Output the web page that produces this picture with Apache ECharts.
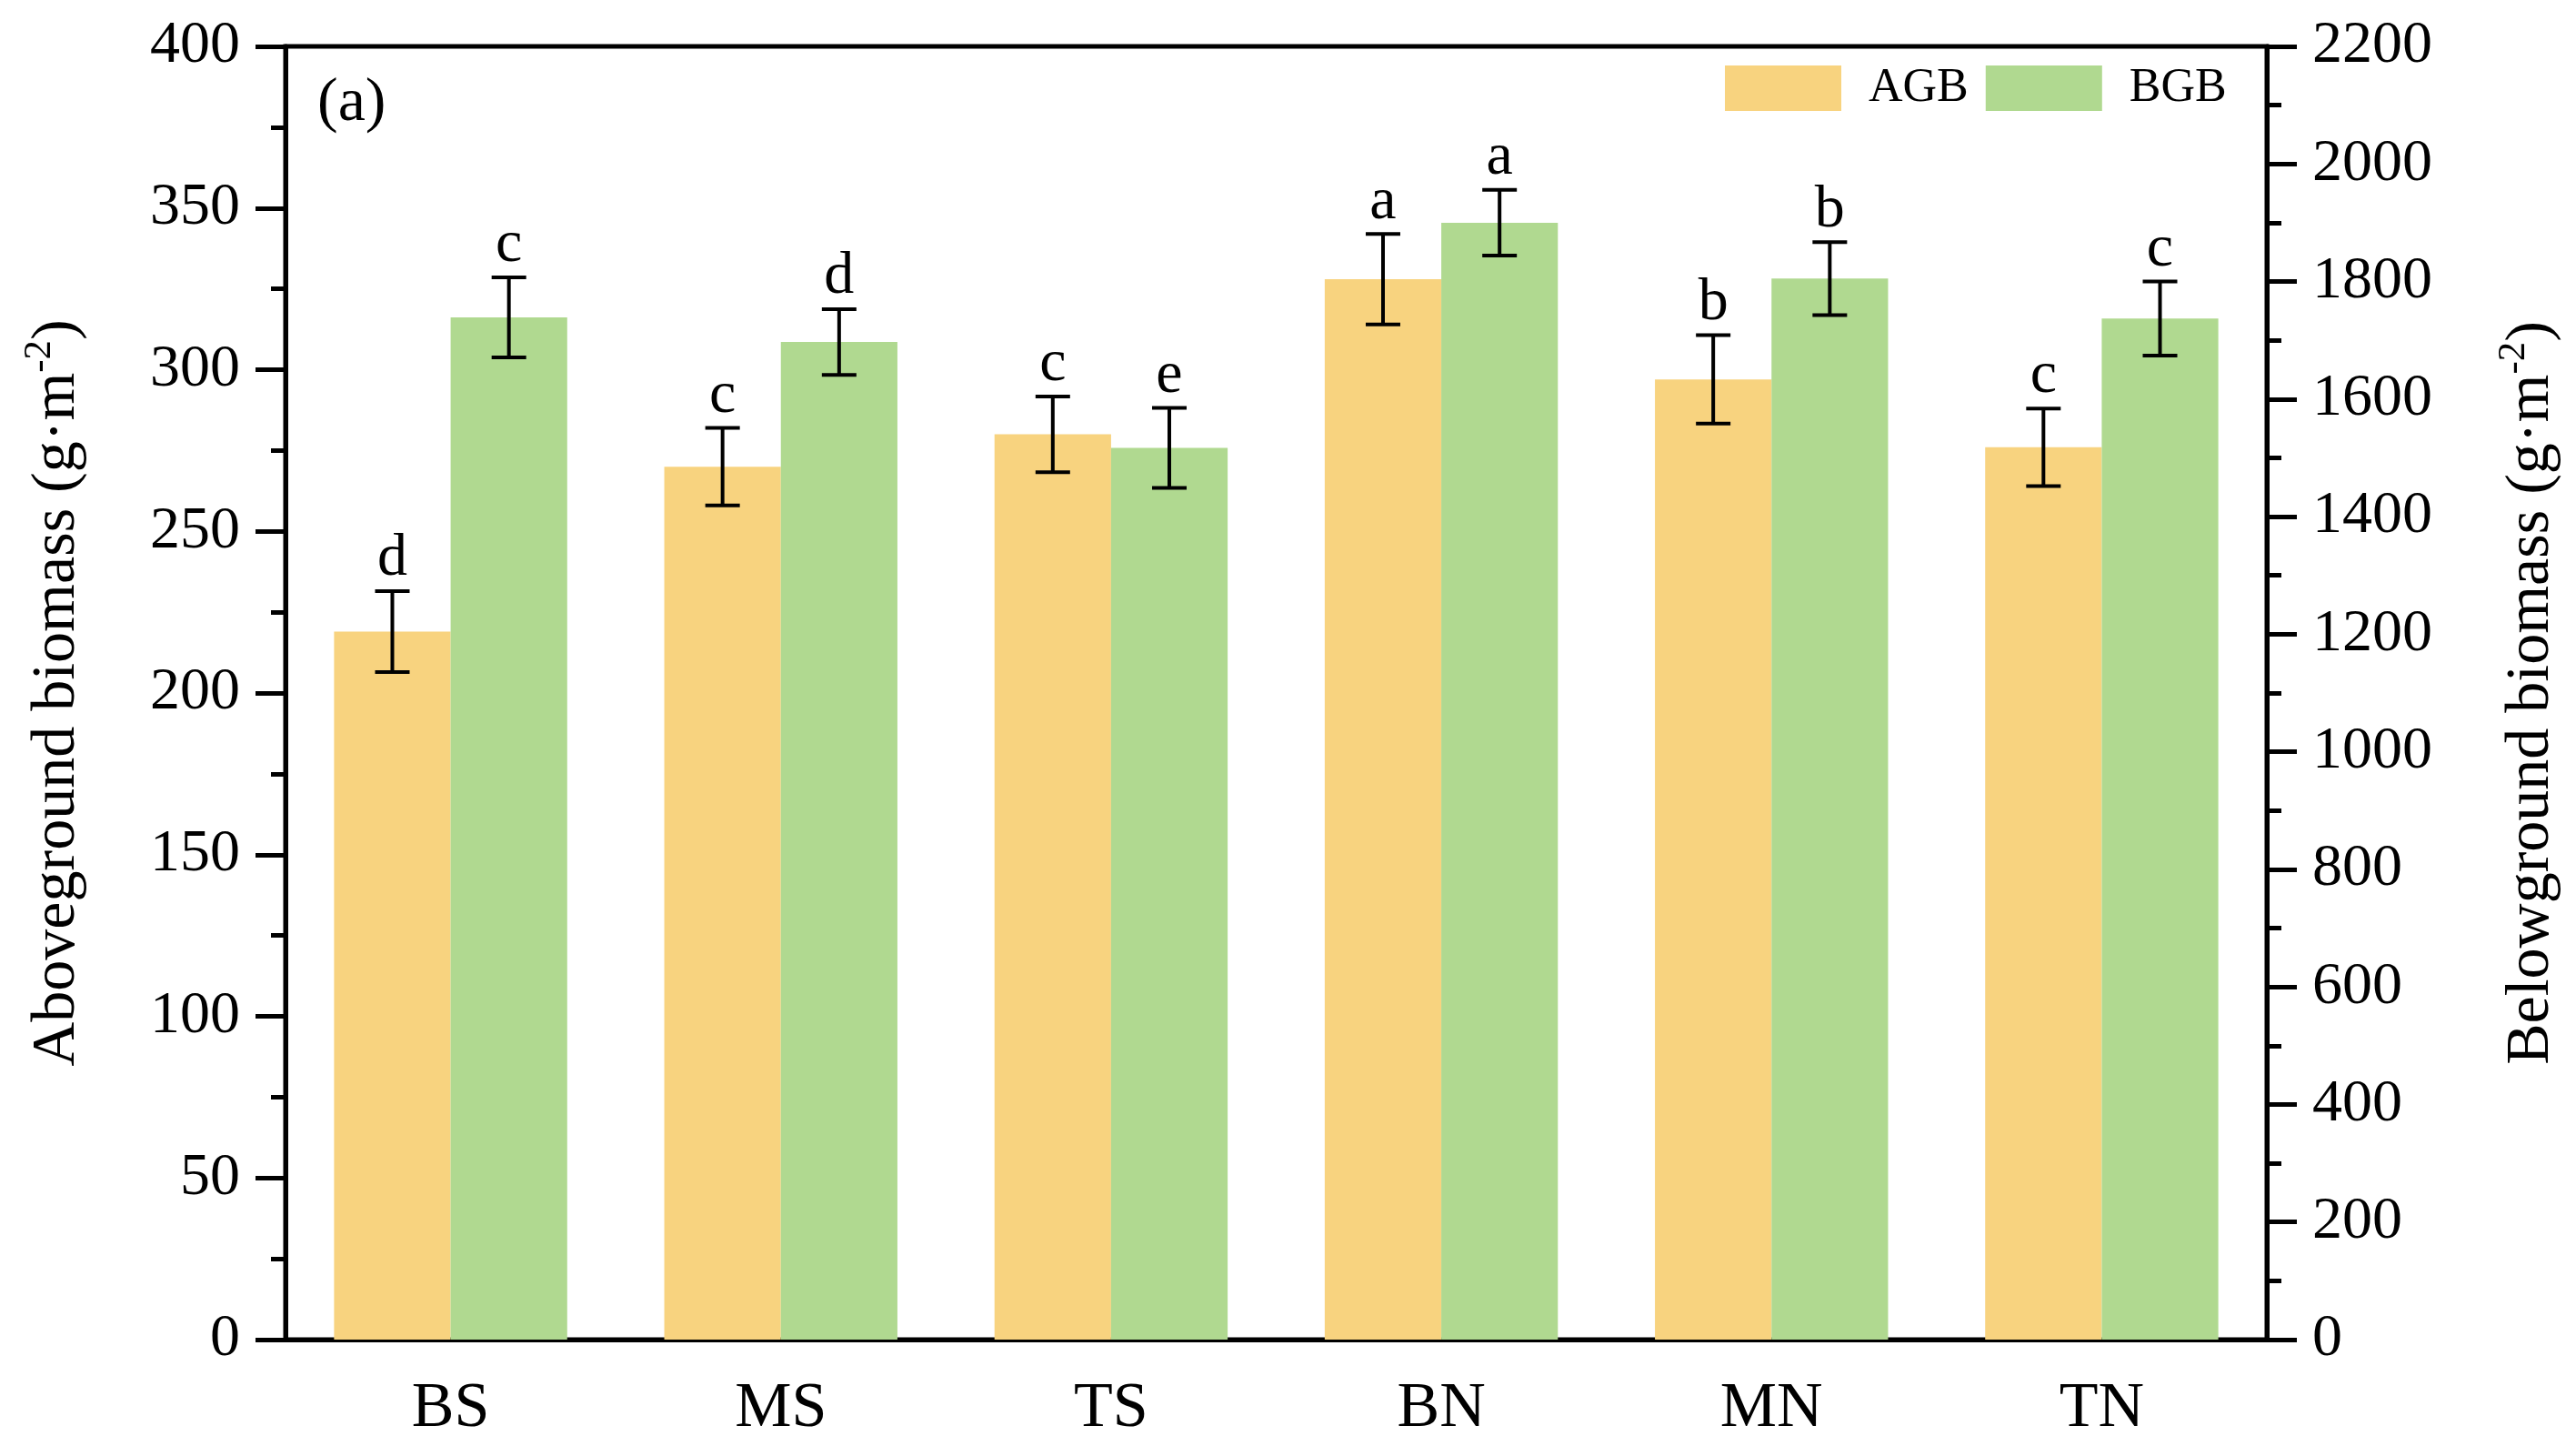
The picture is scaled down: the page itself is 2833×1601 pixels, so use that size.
<!DOCTYPE html>
<html>
<head>
<meta charset="utf-8">
<script src="https://cdn.jsdelivr.net/npm/echarts@6/dist/echarts.min.js"></script>
<style>html,body{margin:0;padding:0;background:#fff}#c{width:2833px;height:1601px}</style>
</head>
<body>
<div id="c"></div>
<script>
const categories = ['BS', 'MS', 'TS', 'BN', 'MN', 'TN'];
const agb = [219, 270, 280, 328, 297, 276];
const agbErr = [12.5, 12, 11.7, 14, 13.7, 12];
const agbLetters = ['d', 'c', 'c', 'a', 'b', 'c'];
const bgb = [1739, 1697, 1517, 1900, 1805, 1737];
const bgbErr = [68, 56, 68, 56, 62, 63];
const bgbLetters = ['c', 'd', 'e', 'a', 'b', 'c'];
const leftTicks = {min: 0, max: 400, interval: 50};
const rightTicks = {min: 0, max: 2200, interval: 200};

const FONT = '"Liberation Serif", "Times New Roman", serif';
const AGB_COLOR = '#F8D37F';
const BGB_COLOR = '#B0D990';
const BAR_FRAC = 0.353;

const chart = echarts.init(document.getElementById('c'));

function errItem(sign, letters) {
  return function (params, api) {
    const x = api.value(0), y = api.value(1), e = api.value(2);
    const c = api.coord([x, y]);
    const t = api.coord([x, y + e]);
    const b = api.coord([x, y - e]);
    const catW = api.size([1, 0])[0];
    const cx = c[0] + sign * catW * BAR_FRAC / 2;
    const cap = 19;
    const ls = {stroke: '#000', lineWidth: 4};
    return {
      type: 'group',
      children: [
        {type: 'line', shape: {x1: cx, y1: t[1], x2: cx, y2: b[1]}, style: ls},
        {type: 'line', shape: {x1: cx - cap, y1: t[1], x2: cx + cap, y2: t[1]}, style: ls},
        {type: 'line', shape: {x1: cx - cap, y1: b[1], x2: cx + cap, y2: b[1]}, style: ls},
        {type: 'text', style: {text: letters[params.dataIndex], x: cx, y: t[1] - 2,
          align: 'center', verticalAlign: 'bottom', fontSize: 66, fontFamily: FONT, fill: '#000'}}
      ]
    };
  };
}

const axisCommon = {
  axisLine: {show: true, lineStyle: {color: '#000', width: 5}},
  axisTick: {show: true, length: 33, lineStyle: {color: '#000', width: 5}},
  minorTick: {show: true, splitNumber: 2, length: 16, lineStyle: {color: '#000', width: 5}},
  splitLine: {show: false},
  axisLabel: {fontSize: 66, fontFamily: FONT, color: '#000', margin: 50, formatter: v => String(v)},
  nameLocation: 'middle',
  nameRotate: 90,
  nameTextStyle: {
    fontSize: 68, fontFamily: FONT, color: '#000', lineHeight: 82,
    rich: {sup: {fontSize: 43, fontFamily: FONT, color: '#000', lineHeight: 40, verticalAlign: 'top'}}
  }
};

chart.setOption({
  backgroundColor: '#fff',
  animation: false,
  grid: {left: 314, right: 339, top: 51, bottom: 128, show: true, borderColor: '#000', borderWidth: 5, backgroundColor: 'transparent'},
  legend: {
    left: 1892, top: 66, itemWidth: 128, itemHeight: 50, itemGap: 19,
    icon: 'rect',
    textStyle: {fontSize: 52, fontFamily: FONT, color: '#000', padding: [0, 0, 0, 25]},
    data: ['AGB', 'BGB']
  },
  graphic: [{type: 'text', left: 349, top: 80, style: {text: '(a)', fontSize: 68, fontFamily: FONT, fill: '#000'}}],
  xAxis: {
    type: 'category', data: categories,
    axisLine: {lineStyle: {color: '#000', width: 5}},
    axisTick: {alignWithLabel: true, length: 27, lineStyle: {color: '#000', width: 5}},
    axisLabel: {fontSize: 70, fontFamily: FONT, color: '#000', margin: 42}
  },
  yAxis: [
    Object.assign({}, axisCommon, {
      type: 'value', position: 'left', min: leftTicks.min, max: leftTicks.max, interval: leftTicks.interval,
      name: 'Aboveground biomass (g·m{sup|-2})', nameGap: 210
    }),
    Object.assign({}, axisCommon, {
      type: 'value', position: 'right', min: rightTicks.min, max: rightTicks.max, interval: rightTicks.interval,
      name: 'Belowground biomass (g·m{sup|-2})', nameGap: 250
    })
  ],
  series: [
    {name: 'AGB', type: 'bar', yAxisIndex: 0, data: agb, barWidth: (BAR_FRAC * 100) + '%', barGap: '0%', itemStyle: {color: AGB_COLOR}},
    {name: 'BGB', type: 'bar', yAxisIndex: 1, data: bgb, barWidth: (BAR_FRAC * 100) + '%', barGap: '0%', itemStyle: {color: BGB_COLOR}},
    {type: 'custom', yAxisIndex: 0, z: 10, renderItem: errItem(-1, agbLetters),
      data: agb.map((v, i) => [i, v, agbErr[i]])},
    {type: 'custom', yAxisIndex: 1, z: 10, renderItem: errItem(1, bgbLetters),
      data: bgb.map((v, i) => [i, v, bgbErr[i]])}
  ]
});
</script>
</body>
</html>
